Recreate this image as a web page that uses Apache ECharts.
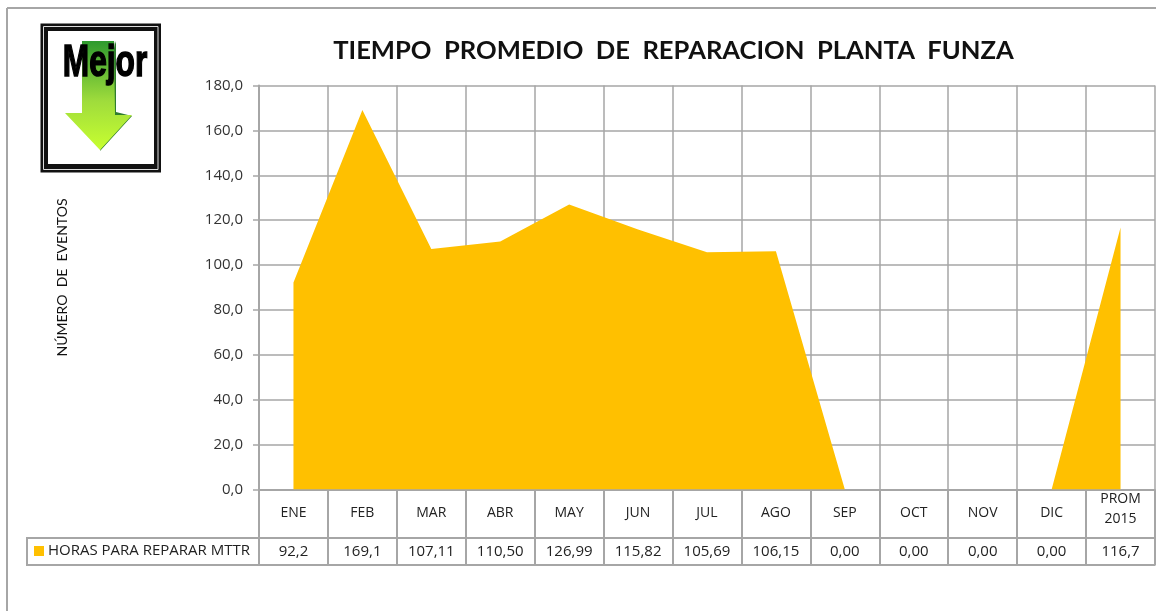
<!DOCTYPE html>
<html><head><meta charset="utf-8">
<style>html,body{margin:0;padding:0;background:#fff}#c{width:1156px;height:611px}</style>
<script src="https://cdn.jsdelivr.net/npm/echarts@6/dist/echarts.min.js"></script>
</head><body><div id="c"></div>
<script>
const categories = ['ENE','FEB','MAR','ABR','MAY','JUN','JUL','AGO','SEP','OCT','NOV','DIC','PROM\n2015'];
const values = [92.2,169.1,107.11,110.50,126.99,115.82,105.69,106.15,0,0,0,0,116.7];
const tableLabels = ['92,2','169,1','107,11','110,50','126,99','115,82','105,69','106,15','0,00','0,00','0,00','0,00','116,7'];
const seriesName = 'HORAS PARA REPARAR MTTR';
const titleText = 'TIEMPO  PROMEDIO  DE  REPARACION  PLANTA  FUNZA';
const yAxisTitle = 'NÚMERO  DE  EVENTOS';
const grey = '#a6a6a6';
const chart = echarts.init(document.getElementById('c'), null, {renderer:'canvas'});
const line = (x1,y1,x2,y2,w=2)=>({type:'line',shape:{x1,y1,x2,y2},style:{stroke:grey,lineWidth:w},silent:true});
chart.setOption({
  animation:false,
  backgroundColor:'#fff',
  textStyle:{fontFamily:'"Open Sans"'},
  title:{text:titleText,left:668.5,top:33,textAlign:'center',textStyle:{fontFamily:'Lato',fontSize:25.6,fontWeight:'bold',color:'#111'}},
  grid:{left:259,right:1,top:85.5,bottom:121.5,containLabel:false},
  xAxis:{type:'category',data:categories,boundaryGap:true,
    axisLine:{show:true,lineStyle:{color:grey,width:2}},
    axisTick:{show:true,length:76,inside:false,lineStyle:{color:grey,width:2}},
    splitLine:{show:true,lineStyle:{color:grey,width:1.5}},
    axisLabel:{interval:0,margin:0,color:'#222',
      formatter:(v)=>{
        const parts=v.split('\n');
        return parts.length>1?`{h|${parts[0]}}\n{h|${parts[1]}}`:`{s|${parts[0]}}`;
      },
      rich:{
        h:{fontSize:14,lineHeight:20,color:'#222',fontFamily:'"Open Sans"'},
        s:{fontSize:14,lineHeight:48,color:'#222',fontFamily:'"Open Sans"'}
      }
    }},
  yAxis:{type:'value',min:0,max:180,interval:20,
    axisLine:{show:true,lineStyle:{color:grey,width:2}},
    axisTick:{show:true,length:6,lineStyle:{color:grey,width:1.5}},
    splitLine:{show:true,lineStyle:{color:grey,width:1.5}},
    axisLabel:{margin:16,color:'#333',fontSize:15,fontFamily:'"Open Sans"',formatter:v=>v.toFixed(1).replace('.',',')},
    name:yAxisTitle,nameLocation:'middle',nameRotate:90,nameGap:190,
    nameTextStyle:{color:'#111',fontSize:14,fontFamily:'Lato',padding:[0,0,0,20]}},
  series:[{name:seriesName,type:'line',data:values,symbol:'none',
    lineStyle:{width:0,color:'#FFC000'},itemStyle:{color:'#FFC000'},
    areaStyle:{color:'#FFC000',opacity:1},z:5}],
  graphic:[
    line(7,8,1156,8), line(7,8,7,611),
    line(27,538,1155,538), line(27,565,1155,565), line(27,537,27,566),
    {type:'rect',shape:{x:34,y:546,width:10,height:10},style:{fill:'#FFC000'}},
    {type:'text',x:48,y:551,style:{text:seriesName,fill:'#222',font:'15px "Open Sans"',verticalAlign:'middle'}},
    ...tableLabels.map((t,i)=>({type:'text',x:259+(i+0.5)*(896/13),y:552,style:{text:t,fill:'#222',font:'15px "Open Sans"',align:'center',verticalAlign:'middle'}})),
    {type:'rect',shape:{x:40.5,y:23.5,width:120.5,height:149},style:{fill:'#111'}},
    {type:'rect',shape:{x:43.5,y:26.5,width:114.5,height:143},style:{fill:'none',stroke:'#ddd',lineWidth:1}},
    {type:'rect',shape:{x:48,y:31,width:106,height:133},style:{fill:'#fff'}},
    {type:'polygon',shape:{points:[[115,41],[116,44],[116,112],[132,116],[100,151]]},style:{fill:'#2f7d2f'}},
    {type:'polygon',shape:{points:[[82,41],[114,41],[115,115],[132,115],[100,150],[65,113],[82,113]]},
      style:{fill:new echarts.graphic.LinearGradient(0,0,0,1,[{offset:0,color:'#2e9a2e'},{offset:.55,color:'#9fdc3c'},{offset:1,color:'#c8ff30'}])}},
    {type:'text',x:105,y:64,scaleX:.72,style:{text:'Mejor',fill:'#000',font:'bold 44px "Liberation Sans"',align:'center',verticalAlign:'middle',stroke:'#000',lineWidth:1.5}}
  ]
});
</script></body></html>
